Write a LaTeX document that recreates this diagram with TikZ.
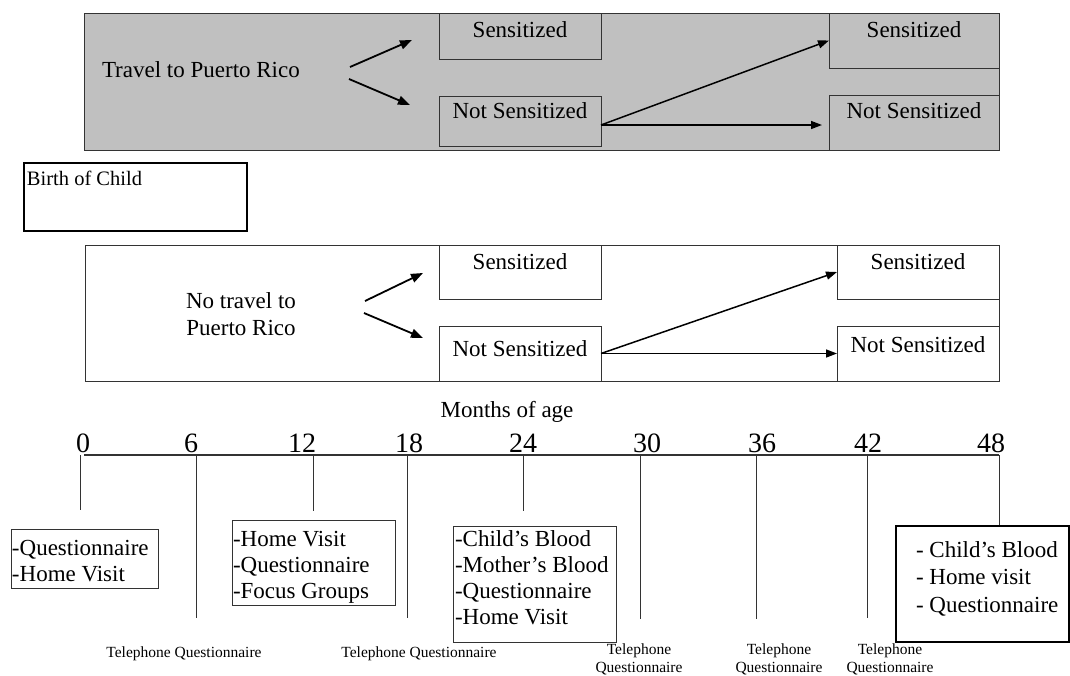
\documentclass[tikz,border=0pt]{standalone}
\usepackage{fontspec}
\setmainfont{Liberation Serif}
\usetikzlibrary{arrows.meta}
\definecolor{panelgray}{HTML}{C0C0C0}
\definecolor{edge}{HTML}{333333}
\begin{document}
\begin{tikzpicture}[x=1pt,y=-1pt,
  every node/.style={inner sep=0pt, outer sep=0pt},
  frame/.style={draw=edge, line width=1pt, anchor=north west},
  txt/.style={font=\fontsize{23}{26}\selectfont},
  digit/.style={font=\fontsize{28}{30}\selectfont, anchor=base},
  tel/.style={font=\fontsize{15.5}{18}\selectfont, anchor=base},
  bigarrow/.style={-{Triangle[length=12pt,width=9pt]}, line width=1.8pt},
  longarrow/.style={-{Triangle[length=11pt,width=8pt]}, line width=1.5pt},
  tick/.style={draw=edge, line width=0.9pt}
]
\useasboundingbox (0,0) rectangle (1070,675);

% ---------- top panel (travel) ----------
\node[frame, fill=panelgray, minimum width=915pt, minimum height=137pt] (toppanel) at (84,13) {};
\node[txt, anchor=base west] (travel) at (102,77) {Travel to Puerto Rico};
\node[frame, fill=panelgray, minimum width=162pt, minimum height=46pt] (s1) at (439,13) {};
\node[txt, anchor=base] (s1t) at (520,37) {Sensitized};
\node[frame, fill=panelgray, minimum width=162pt, minimum height=50pt] (n1) at (439,96) {};
\node[txt, anchor=base] (n1t) at (520,118) {Not Sensitized};
\node[frame, fill=panelgray, minimum width=170pt, minimum height=55pt] (s2) at (829,13) {};
\node[txt, anchor=base] (s2t) at (914,37) {Sensitized};
\node[frame, fill=panelgray, minimum width=170pt, minimum height=55pt] (n2) at (829,95) {};
\node[txt, anchor=base] (n2t) at (914,118) {Not Sensitized};

\coordinate (ta1) at (350,67);
\coordinate (ta1e) at (412,40);
\coordinate (ta2) at (349,79);
\coordinate (ta2e) at (410,105);
\draw[bigarrow] (ta1) -- (ta1e);
\draw[bigarrow] (ta2) -- (ta2e);
\draw[longarrow] ([yshift=-4pt]n1.east) -- (s2.west);
\draw[longarrow] ([yshift=-4pt]n1.east) -- ([xshift=-7pt,yshift=-2.5pt]n2.west);

% ---------- birth of child ----------
\node[frame, draw=black, line width=2.5pt, minimum width=223pt, minimum height=68pt] (birth) at (24,163) {};
\node[font=\fontsize{20.5}{23}\selectfont, anchor=base west] (birtht) at (27,185) {Birth of Child};

% ---------- bottom panel (no travel) ----------
\node[frame, fill=white, minimum width=914pt, minimum height=136pt] (botpanel) at (85,245) {};
\node[txt, anchor=base] (notravel) at (241,308) {\begin{tabular}[t]{@{}c@{}}No travel to\\[1pt] Puerto Rico\end{tabular}};
\node[frame, minimum width=162pt, minimum height=54pt] (s3) at (439,245) {};
\node[txt, anchor=base] (s3t) at (520,269) {Sensitized};
\node[frame, minimum width=162pt, minimum height=55pt] (n3) at (439,326) {};
\node[txt, anchor=base] (n3t) at (520,356) {Not Sensitized};
\node[frame, minimum width=162pt, minimum height=54pt] (s4) at (837,245) {};
\node[txt, anchor=base] (s4t) at (918,269) {Sensitized};
\node[frame, minimum width=162pt, minimum height=55pt] (n4) at (837,326) {};
\node[txt, anchor=base] (n4t) at (918,352) {Not Sensitized};

\coordinate (ba1) at (365,301);
\coordinate (ba1e) at (423,273);
\coordinate (ba2) at (364,313);
\coordinate (ba2e) at (423,338);
\draw[bigarrow] (ba1) -- (ba1e);
\draw[bigarrow] (ba2) -- (ba2e);
\draw[longarrow] (n3.east) -- (s4.west);
\draw[longarrow] (n3.east) -- (n4.west);

% ---------- timeline ----------
\node[txt, anchor=base] (months) at (507,417) {Months of age};
\draw[draw=edge, line width=1.2pt] (84,455) -- (999,455);
\node[digit] (d0) at (83,452) {0};
\node[digit] (d6) at (191,452) {6};
\node[digit] (d12) at (302,452) {12};
\node[digit] (d18) at (409,452) {18};
\node[digit] (d24) at (523,452) {24};
\node[digit] (d30) at (647,452) {30};
\node[digit] (d36) at (762,452) {36};
\node[digit] (d42) at (868,452) {42};
\node[digit] (d48) at (991,452) {48};

\draw[tick] (80,455) -- (80,510);
\draw[tick] (196,455) -- (196,618);
\draw[tick] (313,455) -- (313,511);
\draw[tick] (407,455) -- (407,618);
\draw[tick] (523,455) -- (523,511);
\draw[tick] (640,455) -- (640,619);
\draw[tick] (756,455) -- (756,619);
\draw[tick] (867,455) -- (867,618);
\draw[tick] (999,455) -- (999,526);

% ---------- event boxes ----------
\node[frame, minimum width=147pt, minimum height=59pt] (e0) at (11,529) {};
\node[txt, anchor=base west] (e0t) at (12,555) {\begin{tabular}[t]{@{}l@{}}-Questionnaire\\ -Home Visit\end{tabular}};

\node[frame, minimum width=163pt, minimum height=85pt] (e12) at (232,520) {};
\node[txt, anchor=base west] (e12t) at (233,546) {\begin{tabular}[t]{@{}l@{}}-Home Visit\\ -Questionnaire\\ -Focus Groups\end{tabular}};

\node[frame, minimum width=163pt, minimum height=116pt] (e24) at (453,526) {};
\node[txt, anchor=base west] (e24t) at (455,546) {\begin{tabular}[t]{@{}l@{}}-Child’s Blood\\ -Mother’s Blood\\ -Questionnaire\\ -Home Visit\end{tabular}};

\node[frame, draw=black, line width=1.8pt, minimum width=173pt, minimum height=116pt] (e48) at (896,526) {};
\node[font=\fontsize{23}{27.5}\selectfont, anchor=base west] (e48t) at (916,557) {\begin{tabular}[t]{@{}l@{}}- Child’s Blood\\ - Home visit\\ - Questionnaire\end{tabular}};

% ---------- telephone questionnaires ----------
\node[tel] (tq6) at (184,657) {Telephone Questionnaire};
\node[tel] (tq18) at (419,657) {Telephone Questionnaire};
\node[tel] (tq30) at (639,654) {\begin{tabular}[t]{@{}c@{}}Telephone\\ Questionnaire\end{tabular}};
\node[tel] (tq36) at (779,654) {\begin{tabular}[t]{@{}c@{}}Telephone\\ Questionnaire\end{tabular}};
\node[tel] (tq42) at (890,654) {\begin{tabular}[t]{@{}c@{}}Telephone\\ Questionnaire\end{tabular}};
\end{tikzpicture}
\end{document}
